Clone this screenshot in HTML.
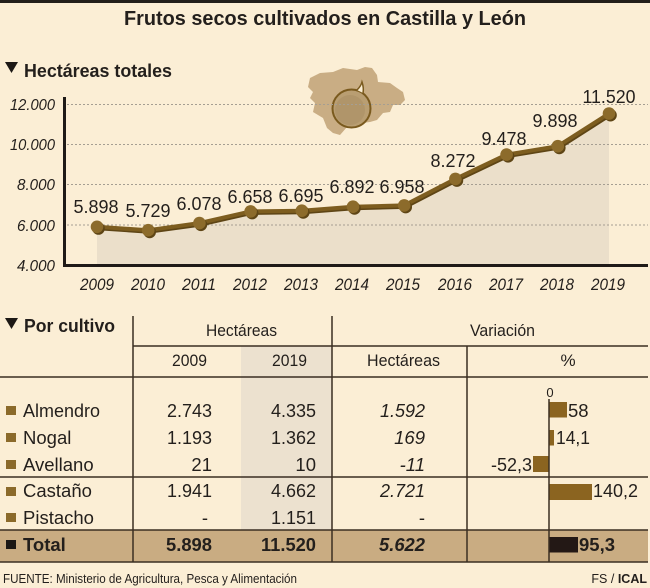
<!DOCTYPE html>
<html><head><meta charset="utf-8"><style>
html,body{margin:0;padding:0;background:#fbeed5;}
svg{display:block;}
text{font-family:"Liberation Sans",Arial,sans-serif;fill:#231f1c;}
</style></head><body>
<svg width="650" height="588" viewBox="0 0 650 588" xmlns="http://www.w3.org/2000/svg">
<rect x="0" y="0" width="650" height="588" fill="#fbeed5"/>
<rect x="0" y="0" width="650" height="3" fill="#231f1a"/>
<text x="325" y="25" font-size="20" font-weight="bold" text-anchor="middle" textLength="402" lengthAdjust="spacingAndGlyphs">Frutos secos cultivados en Castilla y León</text>
<polygon points="5,62 18,62 11.5,73" fill="#1c1815"/>
<text x="24" y="77" font-size="18.5" font-weight="bold" textLength="148" lengthAdjust="spacingAndGlyphs">Hectáreas totales</text>

<!-- map -->
<polygon fill="#c9ad84" points="310,78 320,73 333,72 343,68 357,70 365,67 372,68 377,75 378,82 390,83 397,88 403,92 405,100 400,105 393,105 390,112 383,113 377,120 370,122 362,123 357,127 347,127 340,135 333,133 327,128 323,118 318,115 313,112 315,103 310,98 313,92 308,87"/>
<circle cx="351.5" cy="108.5" r="19" fill="#b99e72" stroke="#7a5a1e" stroke-width="2"/>
<circle cx="350" cy="110" r="15" fill="#b0956a"/>
<path d="M357,90 Q361,86 362,82 Q364,88 363,93" fill="#fbeed5" stroke="#7a5a1e" stroke-width="1.5"/>

<!-- area -->
<polygon fill="#ebdfca" points="97,226.8 148.2,230.2 199.4,223.1 250.6,211.4 301.8,210.7 353,206.7 404.2,205.4 455.4,178.9 506.6,154.6 557.8,146.2 609,113.5 609,265 97,265"/>
<!-- grid -->
<g stroke="#a59e92" stroke-width="1" stroke-dasharray="2,2">
<line x1="67" y1="104.5" x2="648" y2="104.5"/>
<line x1="67" y1="144.5" x2="648" y2="144.5"/>
<line x1="67" y1="184.5" x2="648" y2="184.5"/>
<line x1="67" y1="225" x2="648" y2="225"/>
</g>
<!-- axes -->
<line x1="64.5" y1="97" x2="64.5" y2="266.5" stroke="#1f1a17" stroke-width="3"/>
<line x1="63" y1="265.5" x2="648" y2="265.5" stroke="#1f1a17" stroke-width="3"/>
<!-- y labels -->
<g font-size="16" font-style="italic" text-anchor="end">
<text x="55" y="110" textLength="45" lengthAdjust="spacingAndGlyphs">12.000</text>
<text x="55" y="150" textLength="45" lengthAdjust="spacingAndGlyphs">10.000</text>
<text x="55" y="190" textLength="38" lengthAdjust="spacingAndGlyphs">8.000</text>
<text x="55" y="231" textLength="38" lengthAdjust="spacingAndGlyphs">6.000</text>
<text x="55" y="271" textLength="38" lengthAdjust="spacingAndGlyphs">4.000</text>
</g>
<!-- line -->
<polyline fill="none" stroke="#5e4515" stroke-width="4" stroke-linejoin="round" transform="translate(1,1.5)" points="97,226.8 148.2,230.2 199.4,223.1 250.6,211.4 301.8,210.7 353,206.7 404.2,205.4 455.4,178.9 506.6,154.6 557.8,146.2 609,113.5"/>
<polyline fill="none" stroke="#7d5d1f" stroke-width="4" stroke-linejoin="round" points="97,226.8 148.2,230.2 199.4,223.1 250.6,211.4 301.8,210.7 353,206.7 404.2,205.4 455.4,178.9 506.6,154.6 557.8,146.2 609,113.5"/>
<g fill="#5e4515">
<circle cx="98.5" cy="228.5" r="6.3"/><circle cx="149.7" cy="231.9" r="6.3"/><circle cx="200.9" cy="224.8" r="6.3"/><circle cx="252.1" cy="213.1" r="6.3"/><circle cx="303.3" cy="212.4" r="6.3"/><circle cx="354.5" cy="208.4" r="6.3"/><circle cx="405.7" cy="207.1" r="6.3"/><circle cx="456.9" cy="180.6" r="6.3"/><circle cx="508.1" cy="156.3" r="6.3"/><circle cx="559.3" cy="147.9" r="6.3"/><circle cx="610.5" cy="115.2" r="6.3"/>
</g>
<g fill="#8c6b2b">
<circle cx="97" cy="226.8" r="6.3"/><circle cx="148.2" cy="230.2" r="6.3"/><circle cx="199.4" cy="223.1" r="6.3"/><circle cx="250.6" cy="211.4" r="6.3"/><circle cx="301.8" cy="210.7" r="6.3"/><circle cx="353" cy="206.7" r="6.3"/><circle cx="404.2" cy="205.4" r="6.3"/><circle cx="455.4" cy="178.9" r="6.3"/><circle cx="506.6" cy="154.6" r="6.3"/><circle cx="557.8" cy="146.2" r="6.3"/><circle cx="609" cy="113.5" r="6.3"/>
</g>
<!-- value labels -->
<g font-size="18" text-anchor="middle">
<text x="96" y="213" textLength="45" lengthAdjust="spacingAndGlyphs">5.898</text>
<text x="148" y="217" textLength="45" lengthAdjust="spacingAndGlyphs">5.729</text>
<text x="199" y="210" textLength="45" lengthAdjust="spacingAndGlyphs">6.078</text>
<text x="250" y="203" textLength="45" lengthAdjust="spacingAndGlyphs">6.658</text>
<text x="301" y="202" textLength="45" lengthAdjust="spacingAndGlyphs">6.695</text>
<text x="352" y="193" textLength="45" lengthAdjust="spacingAndGlyphs">6.892</text>
<text x="402" y="193" textLength="45" lengthAdjust="spacingAndGlyphs">6.958</text>
<text x="453" y="167" textLength="45" lengthAdjust="spacingAndGlyphs">8.272</text>
<text x="504" y="145" textLength="45" lengthAdjust="spacingAndGlyphs">9.478</text>
<text x="555" y="127" textLength="45" lengthAdjust="spacingAndGlyphs">9.898</text>
<text x="609" y="103" textLength="53" lengthAdjust="spacingAndGlyphs">11.520</text>
</g>
<!-- x labels -->
<g font-size="17" font-style="italic" text-anchor="middle">
<text x="97" y="290" textLength="34" lengthAdjust="spacingAndGlyphs">2009</text>
<text x="148" y="290" textLength="34" lengthAdjust="spacingAndGlyphs">2010</text>
<text x="199" y="290" textLength="34" lengthAdjust="spacingAndGlyphs">2011</text>
<text x="250" y="290" textLength="34" lengthAdjust="spacingAndGlyphs">2012</text>
<text x="301" y="290" textLength="34" lengthAdjust="spacingAndGlyphs">2013</text>
<text x="352" y="290" textLength="34" lengthAdjust="spacingAndGlyphs">2014</text>
<text x="403" y="290" textLength="34" lengthAdjust="spacingAndGlyphs">2015</text>
<text x="455" y="290" textLength="34" lengthAdjust="spacingAndGlyphs">2016</text>
<text x="506" y="290" textLength="34" lengthAdjust="spacingAndGlyphs">2017</text>
<text x="557" y="290" textLength="34" lengthAdjust="spacingAndGlyphs">2018</text>
<text x="608" y="290" textLength="34" lengthAdjust="spacingAndGlyphs">2019</text>
</g>

<!-- table -->
<polygon points="5,318 18,318 11.5,329" fill="#1c1815"/>
<text x="24" y="332" font-size="18.5" font-weight="bold" textLength="91" lengthAdjust="spacingAndGlyphs">Por cultivo</text>
<rect x="241" y="346" width="91" height="184" fill="#ece1cf"/>
<rect x="0" y="530" width="648" height="32" fill="#c9ac82"/>
<g stroke="#3a2e22" stroke-width="1.5">
<line x1="133" y1="316" x2="133" y2="562"/>
<line x1="332" y1="316" x2="332" y2="562"/>
<line x1="467" y1="346" x2="467" y2="562"/>
<line x1="133" y1="346" x2="648" y2="346"/>
<line x1="0" y1="377" x2="648" y2="377"/>
<line x1="0" y1="477" x2="648" y2="477"/>
<line x1="0" y1="530" x2="648" y2="530"/>
<line x1="0" y1="562" x2="648" y2="562"/>
</g>
<g font-size="17" text-anchor="middle">
<text x="241.5" y="336" textLength="71" lengthAdjust="spacingAndGlyphs">Hectáreas</text>
<text x="502.5" y="336" textLength="65" lengthAdjust="spacingAndGlyphs">Variación</text>
<text x="189.5" y="366" textLength="35" lengthAdjust="spacingAndGlyphs">2009</text>
<text x="289.5" y="366" textLength="35" lengthAdjust="spacingAndGlyphs">2019</text>
<text x="403.5" y="366" textLength="73" lengthAdjust="spacingAndGlyphs">Hectáreas</text>
<text x="568" y="366">%</text>
</g>
<!-- bullets -->
<g fill="#8b6a2a">
<rect x="6" y="406" width="10" height="9"/>
<rect x="6" y="433" width="10" height="9"/>
<rect x="6" y="460" width="10" height="9"/>
<rect x="6" y="487" width="10" height="9"/>
<rect x="6" y="513" width="10" height="9"/>
</g>
<rect x="6" y="540" width="10" height="9" fill="#1c1815"/>
<g font-size="18.5">
<text x="23" y="417" textLength="77" lengthAdjust="spacingAndGlyphs">Almendro</text>
<text x="23" y="444">Nogal</text>
<text x="23" y="471">Avellano</text>
<text x="23" y="497">Castaño</text>
<text x="23" y="524">Pistacho</text>
<text x="23" y="551" font-weight="bold">Total</text>
</g>
<g font-size="18.5" text-anchor="end">
<text x="212" y="417" textLength="45" lengthAdjust="spacingAndGlyphs">2.743</text>
<text x="212" y="444" textLength="45" lengthAdjust="spacingAndGlyphs">1.193</text>
<text x="212" y="471">21</text>
<text x="212" y="497" textLength="45" lengthAdjust="spacingAndGlyphs">1.941</text>
<text x="208" y="524">-</text>
<text x="212" y="551" font-weight="bold" textLength="46" lengthAdjust="spacingAndGlyphs">5.898</text>
<text x="316" y="417" textLength="45" lengthAdjust="spacingAndGlyphs">4.335</text>
<text x="316" y="444" textLength="45" lengthAdjust="spacingAndGlyphs">1.362</text>
<text x="316" y="471">10</text>
<text x="316" y="497" textLength="45" lengthAdjust="spacingAndGlyphs">4.662</text>
<text x="316" y="524" textLength="45" lengthAdjust="spacingAndGlyphs">1.151</text>
<text x="316" y="551" font-weight="bold" textLength="55" lengthAdjust="spacingAndGlyphs">11.520</text>
</g>
<g font-size="18.5" font-style="italic" text-anchor="end">
<text x="425" y="417" textLength="45" lengthAdjust="spacingAndGlyphs">1.592</text>
<text x="425" y="444">169</text>
<text x="425" y="471">-11</text>
<text x="425" y="497" textLength="45" lengthAdjust="spacingAndGlyphs">2.721</text>
<text x="425" y="524" font-style="normal">-</text>
<text x="425" y="551" font-weight="bold" textLength="46" lengthAdjust="spacingAndGlyphs">5.622</text>
</g>
<!-- bars -->
<text x="550" y="397" font-size="13" text-anchor="middle">0</text>
<g fill="#8b6420">
<rect x="549" y="402" width="18" height="15.5"/>
<rect x="549" y="430" width="5" height="15.5"/>
<rect x="533" y="456" width="16" height="16"/>
<rect x="549" y="484" width="43" height="16"/>
</g>
<rect x="549" y="537" width="29" height="15.5" fill="#231815"/>
<line x1="549" y1="399" x2="549" y2="562" stroke="#3a2e22" stroke-width="1.5"/>
<g font-size="18.5">
<text x="568" y="417">58</text>
<text x="556" y="444" textLength="34" lengthAdjust="spacingAndGlyphs">14,1</text>
<text x="532" y="471" text-anchor="end" textLength="41" lengthAdjust="spacingAndGlyphs">-52,3</text>
<text x="593" y="497" textLength="45" lengthAdjust="spacingAndGlyphs">140,2</text>
<text x="579" y="551" font-weight="bold" textLength="36" lengthAdjust="spacingAndGlyphs">95,3</text>
</g>
<!-- footer -->
<text x="3" y="583" font-size="12.5" textLength="294" lengthAdjust="spacingAndGlyphs">FUENTE: Ministerio de Agricultura, Pesca y Alimentación</text>
<text x="647" y="583" font-size="12.5" text-anchor="end">FS / <tspan font-weight="bold">ICAL</tspan></text>
</svg>
</body></html>
